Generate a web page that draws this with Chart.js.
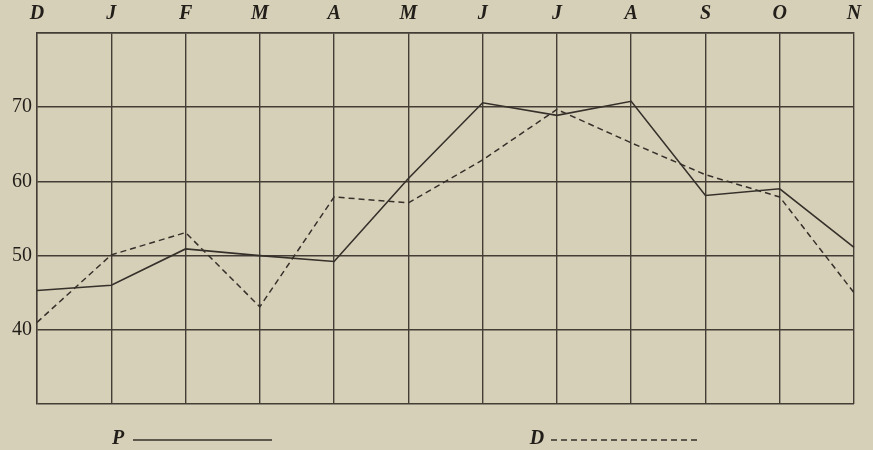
<!DOCTYPE html>
<html>
<head>
<meta charset="utf-8">
<script src="https://cdn.jsdelivr.net/npm/chart.js@4/dist/chart.umd.min.js"></script>
<style>
  html, body { margin: 0; padding: 0; background: #d7d0b9; }
  #wrap { width: 873px; height: 450px; position: relative; }
</style>
</head>
<body>
<div id="wrap"><canvas id="chart"></canvas></div>
<script>
//--------------------------------------------- data
const months = ['D', 'J', 'F', 'M', 'A', 'M', 'J', 'J', 'A', 'S', 'O', 'N'];
const valuesP = [45.3, 46.0, 50.9, 50.0, 49.2, 60.4, 70.6, 68.9, 70.8, 58.1, 59.0, 51.1];
const valuesD = [41.0, 50.1, 53.1, 43.1, 57.9, 57.1, 62.9, 69.7, 65.2, 60.9, 57.9, 45.0];
const yTicks = [40, 50, 60, 70];

const ink = '#35302a';
const gridInk = '#433d35';

//--------------------------------------------- legend drawn below the plot
const bottomLegend = {
  id: 'bottomLegend',
  afterDraw(chart) {
    const ctx = chart.ctx;
    const spots = [[118, 133, 272], [537, 551, 700]];
    ctx.save();
    chart.data.datasets.forEach((ds, i) => {
      const s = spots[i];
      ctx.fillStyle = '#221e19';
      ctx.font = 'italic bold 20px "Liberation Serif"';
      ctx.textAlign = 'center';
      ctx.textBaseline = 'middle';
      ctx.fillText(ds.label, s[0], 439);
      ctx.strokeStyle = ink;
      ctx.lineWidth = 1.4;
      ctx.setLineDash(ds.borderDash || []);
      ctx.beginPath();
      ctx.moveTo(s[1], 440);
      ctx.lineTo(s[2], 440);
      ctx.stroke();
    });
    ctx.restore();
  }
};

const configTemp = {
  type: 'line',
  data: {
    labels: months,
    datasets: [{
      label: 'P',
      data: valuesP,
      borderColor: ink,
      borderWidth: 1.6,
      pointRadius: 0,
      tension: 0,
      fill: false
    }, {
      label: 'D',
      data: valuesD,
      borderColor: ink,
      borderWidth: 1.5,
      borderDash: [6, 4],
      pointRadius: 0,
      tension: 0,
      fill: false
    }]
  },
  options: {
    responsive: false,
    animation: false,
    events: [],
    layout: { padding: { left: 0, right: 19, top: 0, bottom: 46 } },
    plugins: { legend: { display: false }, tooltip: { enabled: false } },
    scales: {
      x: {
        position: 'top',
        offset: false,
        grid: { color: gridInk, lineWidth: 1.4, drawTicks: false },
        border: { color: gridInk, width: 1.4 },
        ticks: {
          color: '#221e19',
          font: { family: '"Liberation Serif"', size: 20, style: 'italic', weight: 'bold' },
          padding: 7,
          maxRotation: 0,
          autoSkip: false
        },
        afterFit: s => { s.height = 33; }
      },
      y: {
        min: 30,
        max: 80,
        afterBuildTicks: s => {
          s.ticks = [30, ...yTicks, 80].map(v => ({ value: v }));
        },
        grid: { color: gridInk, lineWidth: 1.4, drawTicks: false },
        border: { color: gridInk, width: 1.4 },
        ticks: {
          color: '#221e19',
          font: { family: '"Liberation Serif"', size: 20 },
          padding: 5,
          callback: v => yTicks.includes(v) ? v : ''
        },
        afterFit: s => { s.width = 37; }
      }
    }
  },
  plugins: [bottomLegend]
};

const canvas = document.getElementById('chart');
canvas.width = 873;
canvas.height = 450;
var chartTemp = new Chart(canvas, configTemp);
</script>
</body>
</html>
